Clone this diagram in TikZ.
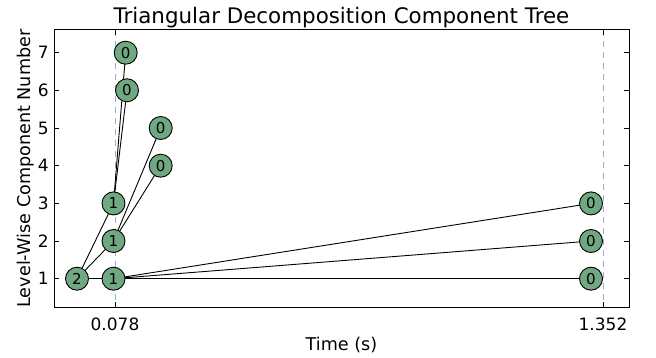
\documentclass[tikz,border=0pt]{standalone}
\usepackage{fontspec}
\setmainfont{DejaVu Sans}
\usetikzlibrary{backgrounds}
\definecolor{nodefill}{RGB}{112,168,130}
\definecolor{guide}{RGB}{150,175,210}
\begin{document}
\begin{tikzpicture}[x=1pt,y=-1pt,
  tnode/.style={circle,draw=black,line width=0.9pt,fill=nodefill,minimum size=23pt,inner sep=0pt,font=\fontsize{15}{15}\selectfont},
  edge/.style={draw=black,line width=0.9pt},
  guideline/.style={draw=guide,line width=0.9pt,dash pattern=on 6pt off 5pt},
  tick/.style={draw=black,line width=0.9pt},
  framebox/.style={draw=black,line width=1pt},
  ticklabel/.style={font=\fontsize{17}{17}\selectfont,inner sep=0pt},
  axislabel/.style={font=\fontsize{17.6}{17.6}\selectfont,inner sep=0pt},
  titlelabel/.style={font=\fontsize{21.4}{21.4}\selectfont,inner sep=0pt}]
\useasboundingbox (0,0) rectangle (656,358);
% nodes
\node[tnode] (a) at (77,278.7) {2};
\node[tnode] (b) at (113.5,278.7) {1};
\node[tnode] (c) at (113.5,241.0) {1};
\node[tnode] (d) at (113.5,203.4) {1};
\node[tnode] (e) at (160.7,165.7) {0};
\node[tnode] (f) at (160.7,128.0) {0};
\node[tnode] (g) at (127,90.3) {0};
\node[tnode] (h) at (125.7,52.7) {0};
\node[tnode] (i) at (591,278.7) {0};
\node[tnode] (j) at (591,241.0) {0};
\node[tnode] (k) at (591,203.4) {0};
\begin{scope}[on background layer]
  % guides
  \coordinate (g1t) at (115,30);
  \coordinate (g1b) at (115,307);
  \coordinate (g2t) at (603,30);
  \coordinate (g2b) at (603,307);
  \draw[guideline] (g1t) -- (g1b);
  \draw[guideline] (g2t) -- (g2b);
  % edges
  \draw[edge] (a.center) -- (b.center);
  \draw[edge] (a.center) -- (c.center);
  \draw[edge] (a.center) -- (d.center);
  \draw[edge] (c.center) -- (e.center);
  \draw[edge] (c.center) -- (f.center);
  \draw[edge] (d.center) -- (g.center);
  \draw[edge] (d.center) -- (h.center);
  \draw[edge] (b.center) -- (i.center);
  \draw[edge] (b.center) -- (j.center);
  \draw[edge] (b.center) -- (k.center);
\end{scope}
% frame
\coordinate (fl) at (54,30);
\coordinate (fr) at (629,307);
\draw[framebox] (fl) rectangle (fr);
% ticks
\foreach \k in {1,...,7}{
  \pgfmathsetmacro{\yy}{278.7-(\k-1)*37.67}
  \draw[tick] (54,\yy) -- (59,\yy);
  \draw[tick] (629,\yy) -- (624,\yy);
  \node[ticklabel,anchor=east] at (49,\yy) {\k};
}
\foreach \xx in {115,603}{
  \draw[tick] (\xx,307) -- (\xx,302);
  \draw[tick] (\xx,30) -- (\xx,35);
}
\node[ticklabel,anchor=base] at (115,330) {0.078};
\node[ticklabel,anchor=base] at (603,330) {1.352};
% labels
\node[axislabel,anchor=base] at (341.5,350) {Time (s)};
\node[axislabel,anchor=base,rotate=90] at (30.5,168.5) {Level-Wise Component Number};
\node[titlelabel,anchor=base] at (341.5,24) {Triangular Decomposition Component Tree};
\end{tikzpicture}
\end{document}
